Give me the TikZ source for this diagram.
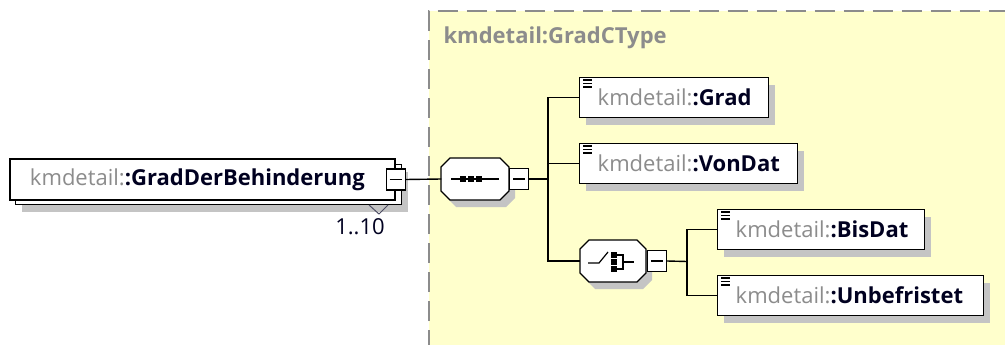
\documentclass[tikz,border=0pt]{standalone}
\usepackage{fontspec}
\setmainfont{Open Sans}
\usetikzlibrary{positioning,shadows}
\definecolor{typebg}{HTML}{FFFFCC}
\definecolor{nsgray}{HTML}{8C8C8C}
\definecolor{namecol}{HTML}{000020}
\definecolor{shadegray}{HTML}{C4C4C4}
\newcommand{\kmname}[1]{{\color{nsgray}kmdetail:}\textbf{:#1}}
% octagon round a centre, half width #2, half height #3
\newcommand{\octpath}[3]{(#1)++({-#2+9},-#3)--++({2*#2-18},0)--++(9,9)--++(0,{2*#3-18})--++(-9,9)--++({-2*#2+18},0)--++(-9,-9)--++(0,{-2*#3+18})--cycle}
\tikzset{
  elbox/.style={draw,line width=1.4pt,fill=white,minimum height=40pt,inner xsep=0pt,
    align=left,text=namecol,font=\fontsize{22}{26}\selectfont,
    drop shadow={shadow xshift=6pt,shadow yshift=-7pt,fill=shadegray,opacity=1}},
  minusbox/.style={draw,line width=1.2pt,fill=white,minimum width=19pt,minimum height=21pt,inner sep=0pt,
    path picture={\draw[line width=1.2pt]([xshift=-6pt]path picture bounding box.center)--([xshift=6pt]path picture bounding box.center);}},
  compbox/.style={minimum width=67pt,minimum height=42pt,inner sep=0pt},
  octline/.style={draw,line width=1.2pt,fill=white},
  link/.style={line width=1.4pt}
}
\begin{document}
\begin{tikzpicture}[x=1pt,y=-1pt]
\useasboundingbox(0,0)rectangle(1005,345);
\clip(0,0)rectangle(1005,345);
%
\fill[typebg](428.5,11)rectangle(1010,350);
\draw[nsgray,line width=2pt,dash pattern=on 20pt off 9pt](428.5,350)--(428.5,11)--(1010,11);
\node[anchor=west,text=nsgray,font=\fontsize{22}{26}\selectfont\bfseries](typename)at(440,38){kmdetail:GradCType};
%
\node[elbox,minimum width=386pt,text width=346pt](back)at(208.5,184.5){\phantom{x}};
\node[draw,line width=1.4pt,fill=white,minimum width=385pt,minimum height=41pt,inner xsep=0pt,align=left,
  text width=345pt,text=namecol,font=\fontsize{22}{26}\selectfont](main)at(202.5,179.5){\kmname{GradDerBehinderung}};
\node[minusbox](mainminus)at(main.east){};
\draw[namecol!70,line width=1pt](369,205)--(379,214)--(388,205);
\node[text=namecol,font=\fontsize{22}{26}\selectfont](mult)at(360,227){1..10};
%
\node[compbox](seq)at(475,179){};
\fill[shadegray]\octpath{481,186}{34}{21};
\path[octline]\octpath{seq.center}{34}{21};
\node[minusbox,right=0.5pt of seq](seqminus){};
\draw[line width=1.2pt](seq.center)++(-24,0)--++(48,0);
\foreach \i in {0,8,16}
  \fill([xshift=-12pt+\i pt]seq.center)++(-3,-3)rectangle++(6,6);
%
\node[elbox,anchor=north west,minimum width=189pt,text width=153pt](grad)at(579,77){\kmname{Grad}};
\node[elbox,anchor=north west,minimum width=218pt,text width=182pt](vondat)at(579,143){\kmname{VonDat}};
%
\node[compbox,minimum width=66pt](choice)at(613,261){};
\fill[shadegray]\octpath{619,268}{33}{21};
\path[octline]\octpath{choice.center}{33}{21};
\node[minusbox,right=0.5pt of choice](choiceminus){};
\draw[line width=1.2pt](588,263)--(599,263)--(608,252);
\foreach \y in {252,259,266}
  \fill(611,\y)rectangle++(6,6);
\draw[line width=1.2pt](617,255)-|(623,269)--(617,269)(623,262)--(634,262);
%
\node[elbox,anchor=north west,minimum width=207pt,text width=171pt](bisdat)at(717,209){\kmname{BisDat}};
\node[elbox,anchor=north west,minimum width=266pt,text width=230pt](unbef)at(717,275){\kmname{Unbefristet}};
%
\foreach \n in {grad,vondat,bisdat,unbef}
  \foreach \d in {3,6.5,10}
    \draw[line width=1.1pt]([xshift=4pt,yshift=-\d pt]\n.north west)--++(9,0);
%
\coordinate(seqfork)at(548,179);
\coordinate(choicefork)at(687,261.5);
\draw[link](mainminus.east)--(seq.west);
\draw[link](seqminus.east)--(seqfork);
\draw[link](seqfork)|-(grad.west);
\draw[link](seqfork)|-(vondat.west);
\draw[link](seqfork)|-(choice.west);
\draw[link](choiceminus.east)--(choicefork);
\draw[link](choicefork)|-(bisdat.west);
\draw[link](choicefork)|-(unbef.west);
\end{tikzpicture}
\end{document}
